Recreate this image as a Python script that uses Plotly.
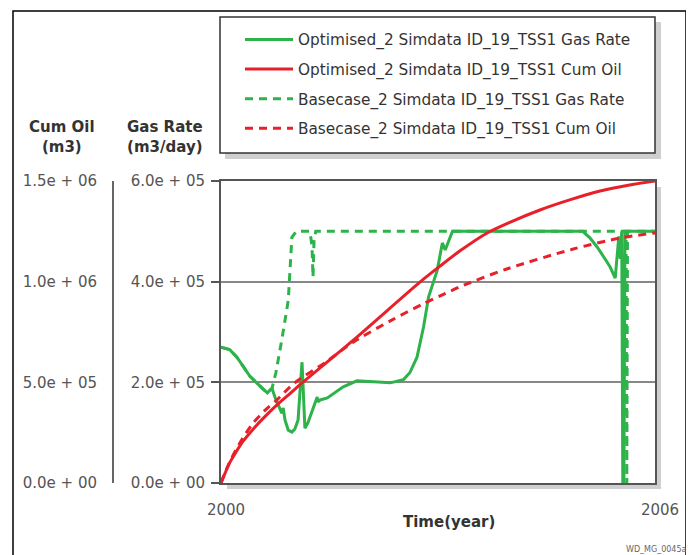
import plotly.graph_objects as go

# ---------------- data ----------------
opt_gas_year = [2000.00, 2000.12, 2000.22, 2000.30, 2000.40, 2000.50, 2000.57, 2000.64, 2000.68,
                2000.705, 2000.75, 2000.79, 2000.84, 2000.86, 2000.885, 2000.93, 2000.98, 2001.02,
                2001.065, 2001.12, 2001.134, 2001.16, 2001.20, 2001.26, 2001.30, 2001.33, 2001.34,
                2001.37, 2001.47, 2001.60, 2001.69, 2001.88, 2002.16, 2002.34, 2002.52, 2002.61,
                2002.71, 2002.80, 2002.87, 2002.99, 2003.06, 2003.10, 2003.20, 2005.00, 2005.10,
                2005.20, 2005.31, 2005.38, 2005.45, 2005.50, 2005.52, 2005.54, 2005.555, 2005.57,
                2005.585, 2006.00]
opt_gas_rate = [270e3, 265e3, 250e3, 232e3, 212e3, 198e3, 189e3, 179e3, 185e3,
                188e3, 169e3, 155e3, 139e3, 149e3, 125e3, 105e3, 101e3, 107e3,
                125e3, 240e3, 199e3, 109e3, 119e3, 145e3, 161e3, 171e3, 161e3,
                165e3, 169e3, 181e3, 191e3, 203e3, 201e3, 199e3, 205e3, 219e3,
                250e3, 310e3, 370e3, 423e3, 477e3, 463e3, 500e3, 500e3, 487e3,
                469e3, 445e3, 429e3, 407e3, 490e3, 445e3, 500e3, 0, 0,
                500e3, 500e3]

base_gas_year = [2000.00, 2000.12, 2000.22, 2000.30, 2000.40, 2000.50, 2000.57, 2000.64, 2000.705,
                 2000.76, 2000.84, 2000.93, 2000.98, 2001.04, 2001.23, 2001.258, 2001.272, 2001.286,
                 2001.31, 2005.60, 2005.61, 2005.62, 2006.00]
base_gas_rate = [270e3, 265e3, 250e3, 232e3, 212e3, 198e3, 189e3, 179e3, 188e3,
                 220e3, 284e3, 363e3, 488e3, 500e3, 500e3, 470e3, 409e3, 480e3,
                 500e3, 500e3, 0, 500e3, 500e3]

opt_oil_year = [2000.00, 2000.06, 2000.12, 2000.20, 2000.30, 2000.45, 2000.60, 2000.77, 2000.95,
                2001.12, 2001.83, 2002.75, 2003.03, 2003.30, 2003.68, 2004.00, 2004.41, 2004.82,
                2005.24, 2005.65, 2006.00]
opt_cum_oil = [0, 52e3, 100e3, 149e3, 205e3, 270e3, 327e3, 387e3, 443e3,
               497e3, 710e3, 998e3, 1078e3, 1152e3, 1242e3, 1296e3, 1356e3, 1406e3,
               1450e3, 1480e3, 1500e3]

base_oil_year = [2000.00, 2000.06, 2000.12, 2000.20, 2000.30, 2000.45, 2000.60, 2000.77, 2001.00,
                 2001.47, 2001.83, 2002.34, 2002.79, 2003.03, 2003.30, 2003.95, 2004.87, 2005.52,
                 2006.00]
base_cum_oil = [0, 55e3, 104e3, 160e3, 222e3, 300e3, 358e3, 412e3, 492e3,
                606e3, 700e3, 805e3, 889e3, 929e3, 974e3, 1063e3, 1162e3, 1217e3,
                1242e3]

gas_tick_vals = [0, 2e5, 4e5, 6e5]
gas_tick_text = ["0.0e + 00", "2.0e + 05", "4.0e + 05", "6.0e + 05"]
oil_tick_vals = [0, 5e5, 1e6, 1.5e6]
oil_tick_text = ["0.0e + 00", "5.0e + 05", "1.0e + 06", "1.5e + 06"]
x_tick_vals = [2000, 2006]
x_tick_text = ["2000", "2006"]

names = ["Optimised_2 Simdata ID_19_TSS1 Gas Rate",
         "Optimised_2 Simdata ID_19_TSS1 Cum Oil",
         "Basecase_2 Simdata ID_19_TSS1 Gas Rate",
         "Basecase_2 Simdata ID_19_TSS1 Cum Oil"]

# ---------------- layout geometry (picture pixels; page body has an 8px offset) ----------------
OFF = 8
W, H = 694 - OFF, 555 - OFF
ML, MR, MT, MB = 5, 39, 173, 72
PW, PH = W - ML - MR, H - MT - MB


def px(x):
    return (x - OFF - ML) / PW


def py(y):
    return (H - MB - (y - OFF)) / PH


GREEN = "#2db34a"
RED = "#e8202a"
FONT = "DejaVu Sans"

fig = go.Figure()
fig.add_trace(go.Scatter(x=base_gas_year, y=base_gas_rate, name=names[2], mode="lines",
                         line=dict(color=GREEN, width=3, dash="8px,6px"),
                         legendgroup="c", legendrank=3, yaxis="y"))
fig.add_trace(go.Scatter(x=opt_gas_year, y=opt_gas_rate, name=names[0], mode="lines",
                         line=dict(color=GREEN, width=3),
                         legendgroup="a", legendrank=1, yaxis="y"))
fig.add_trace(go.Scatter(x=base_oil_year, y=base_cum_oil, name=names[3], mode="lines",
                         line=dict(color=RED, width=3, dash="8px,6px", shape="spline", smoothing=0.8),
                         legendgroup="d", legendrank=4, yaxis="y2"))
fig.add_trace(go.Scatter(x=opt_oil_year, y=opt_cum_oil, name=names[1], mode="lines",
                         line=dict(color=RED, width=3, shape="spline", smoothing=0.8),
                         legendgroup="b", legendrank=2, yaxis="y2"))

shapes = [
    # outer frame
    dict(type="rect", xref="paper", yref="paper", x0=px(13), x1=px(686), y0=py(575), y1=py(11),
         line=dict(color="#000000", width=1.5), fillcolor="rgba(0,0,0,0)", layer="below"),
    # legend shadow + box
    dict(type="rect", xref="paper", yref="paper", x0=px(225), x1=px(661), y0=py(159), y1=py(22),
         line=dict(width=0), fillcolor="#cfcfcf", layer="below"),
    dict(type="rect", xref="paper", yref="paper", x0=px(220), x1=px(655), y0=py(153), y1=py(17),
         line=dict(color="#333333", width=1.5), fillcolor="white", layer="below"),
    # plot shadow
    dict(type="rect", xref="paper", yref="paper", x0=px(656), x1=px(661), y0=py(489), y1=py(187),
         line=dict(width=0), fillcolor="#cfcfcf", layer="below"),
    dict(type="rect", xref="paper", yref="paper", x0=px(227), x1=px(661), y0=py(489), y1=py(484),
         line=dict(width=0), fillcolor="#cfcfcf", layer="below"),
]

annotations = [
    dict(text="<b>Cum Oil</b><br><b>(m3)</b>", x=px(62), y=py(137), xref="paper", yref="paper",
         xanchor="center", yanchor="middle",
         showarrow=False, font=dict(family=FONT, size=15, color="#333333"), align="center"),
    dict(text="<b>Gas Rate</b><br><b>(m3/day)</b>", x=px(165), y=py(137), xref="paper", yref="paper",
         xanchor="center", yanchor="middle",
         showarrow=False, font=dict(family=FONT, size=15, color="#333333"), align="center"),
    dict(text="<b>Time(year)</b>", x=px(449), y=py(522), xref="paper", yref="paper",
         xanchor="center", yanchor="middle",
         showarrow=False, font=dict(family=FONT, size=15, color="#333333")),
    dict(text="WD_MG_0045a", x=px(689), y=py(549), xref="paper", yref="paper",
         xanchor="right", yanchor="middle",
         showarrow=False, font=dict(family=FONT, size=8, color="#666666")),
]

fig.update_layout(
    width=W, height=H,
    margin=dict(l=ML, r=MR, t=MT, b=MB, pad=0, autoexpand=False),
    paper_bgcolor="white", plot_bgcolor="rgba(0,0,0,0)",
    font=dict(family=FONT, size=14, color="#555555"),
    showlegend=True,
    legend=dict(x=px(240), y=py(23), xanchor="left", yanchor="top", itemwidth=48,
                bgcolor="rgba(0,0,0,0)", borderwidth=0, tracegroupgap=6.7,
                traceorder="grouped", font=dict(family=FONT, size=15.3, color="#333333")),
    xaxis=dict(domain=[px(221), 1], range=[2000, 2006], tickvals=x_tick_vals, ticktext=x_tick_text,
               showgrid=False, zeroline=False, showline=True, mirror=True, linecolor="#555555",
               linewidth=2, ticks="", ticklabelstandoff=12, ticklabelshift=5, automargin=False,
               tickfont=dict(family=FONT, size=15, color="#555555")),
    yaxis=dict(range=[0, 6e5], tickvals=gas_tick_vals, ticktext=gas_tick_text,
               showgrid=True, gridcolor="#888888", gridwidth=1.5, zeroline=False,
               showline=True, mirror=True, linecolor="#555555", linewidth=2,
               ticks="outside", ticklen=8, tickwidth=1.5, tickcolor="#555555", automargin=False,
               ticklabelstandoff=3, tickfont=dict(family=FONT, size=15, color="#555555")),
    yaxis2=dict(range=[0, 1.5e6], tickvals=oil_tick_vals, ticktext=oil_tick_text,
                overlaying="y", side="left", anchor="free", position=px(113), automargin=False,
                showgrid=False, zeroline=False, showline=True, linecolor="#666666", linewidth=2,
                ticks="", ticklabelstandoff=12, tickfont=dict(family=FONT, size=15, color="#555555")),
    shapes=shapes,
    annotations=annotations,
)

fig.write_html("out.html")
